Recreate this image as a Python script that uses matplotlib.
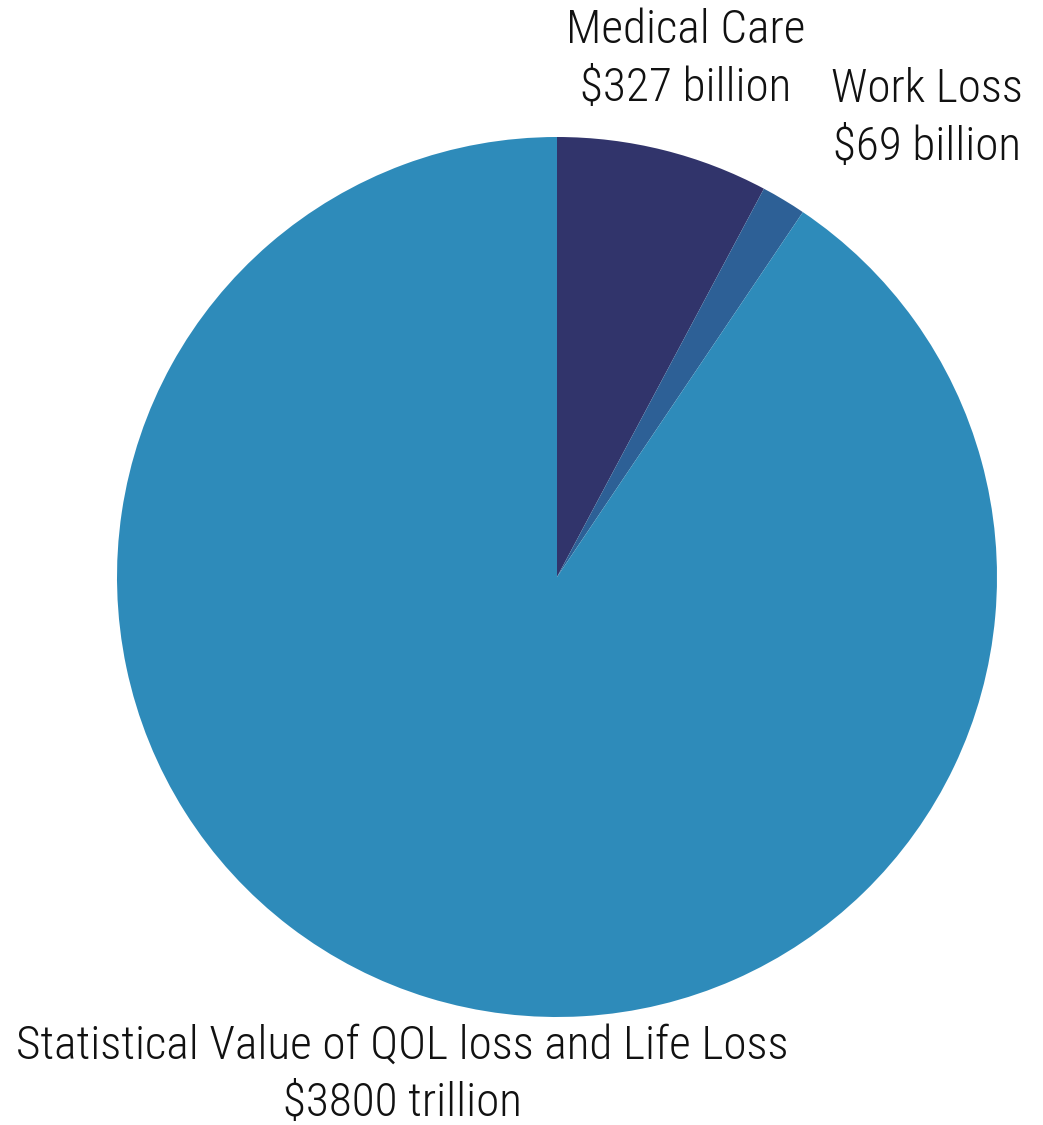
import matplotlib
matplotlib.use("Agg")
import matplotlib.pyplot as plt

categories = ["Medical Care", "Work Loss", "Statistical Value of QOL loss and Life Loss"]
values = [327, 69, 3800]
value_labels = ["$327 billion", "$69 billion", "$3800 trillion"]
colors = ["#31346b", "#2d6096", "#2e8bba"]

W, H = 1043, 1125
fig = plt.figure(figsize=(W / 100, H / 100), dpi=100)
ax = fig.add_axes([0, 0, 1, 1])
ax.pie(values, colors=colors, startangle=90, counterclock=False,
       center=(557, H - 577), radius=440,
       wedgeprops=dict(linewidth=0))
ax.set_xlim(0, W)
ax.set_ylim(0, H)
ax.set_aspect("auto")
ax.axis("off")

font = dict(family=["Roboto Condensed", "Liberation Sans Narrow", "Roboto", "DejaVu Sans"],
            fontsize=34, fontweight="light",
            color="#111111", ha="center", va="center", linespacing=1.38)
label_pos = [(686, 59), (927, 118), (402, 1074)]
for cat, vl, (px, py) in zip(categories, value_labels, label_pos):
    ax.text(px, H - py, f"{cat}\n{vl}", **font)

fig.savefig("out.png", dpi=100)
